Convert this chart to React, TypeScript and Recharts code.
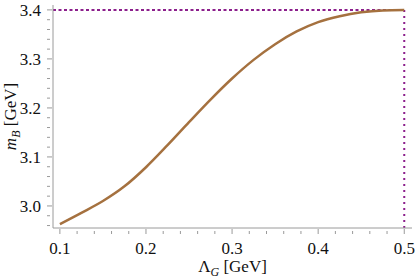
import { LineChart, Line, XAxis, YAxis, ReferenceLine } from 'recharts';

// Λ_G [GeV] sample points and m_B [GeV]
const lambdaG = [0.1, 0.125, 0.15, 0.175, 0.2, 0.225, 0.25, 0.275, 0.3, 0.325, 0.35, 0.375, 0.4, 0.425, 0.45, 0.475, 0.5];
const massB = [2.963, 2.986, 3.01, 3.04, 3.079, 3.124, 3.171, 3.217, 3.26, 3.298, 3.33, 3.356, 3.375, 3.387, 3.395, 3.399, 3.4];

const xMajor = [0.1, 0.2, 0.3, 0.4, 0.5];
const xTicks = [0.1, 0.12, 0.14, 0.16, 0.18, 0.2, 0.22, 0.24, 0.26, 0.28, 0.3, 0.32, 0.34, 0.36, 0.38, 0.4, 0.42, 0.44, 0.46, 0.48, 0.5];
const yMajor = [3.0, 3.1, 3.2, 3.3, 3.4];
const yTicks = [2.96, 2.98, 3.0, 3.02, 3.04, 3.06, 3.08, 3.1, 3.12, 3.14, 3.16, 3.18, 3.2, 3.22, 3.24, 3.26, 3.28, 3.3, 3.32, 3.34, 3.36, 3.38, 3.4];

const xDomain = [0.092, 0.509];
const yDomain = [2.955, 3.41];
const limitMass = 3.4;
const limitLambda = 0.5;

const data = lambdaG.map((x, i) => ({ x, m: massB[i] }));

const FRAME = '#9a9a9a';
const SERIF = 'Liberation Serif';
const CURVE = '#a5713f';
const GUIDE = '#8c1f8c';

const isMajor = (v: number, list: number[]) => list.some((m) => Math.abs(m - v) < 1e-6);

const BottomTick = (props: any) => {
  const { x, y, payload } = props;
  const major = isMajor(payload.value, xMajor);
  return (
    <g>
      <line x1={x} y1={y} x2={x} y2={y - (major ? 5 : 3)} stroke={FRAME} />
      {major && (
        <text x={x} y={y + 20} textAnchor="middle" fontFamily={SERIF} fontSize={17} fill="#111">
          {payload.value.toFixed(1)}
        </text>
      )}
    </g>
  );
};

const TopTick = (props: any) => {
  const { x, y, payload } = props;
  const major = isMajor(payload.value, xMajor);
  return <line x1={x} y1={y} x2={x} y2={y + (major ? 5 : 3)} stroke={FRAME} />;
};

const LeftTick = (props: any) => {
  const { x, y, payload } = props;
  const major = isMajor(payload.value, yMajor);
  return (
    <g>
      <line x1={x} y1={y} x2={x + (major ? 5 : 3)} y2={y} stroke={FRAME} />
      {major && (
        <text x={x - 6} y={y + 6} textAnchor="end" fontFamily={SERIF} fontSize={17} fill="#111">
          {payload.value.toFixed(1)}
        </text>
      )}
    </g>
  );
};

const RightTick = (props: any) => {
  const { x, y, payload } = props;
  const major = isMajor(payload.value, yMajor);
  return <line x1={x} y1={y} x2={x - (major ? 5 : 3)} y2={y} stroke={FRAME} />;
};

const XLabel = (props: any) => {
  const vb = props.viewBox;
  return (
    <text x={vb.x + vb.width / 2} y={vb.y + 44} textAnchor="middle" fontFamily={SERIF} fontSize={17} fill="#111">
      Λ<tspan fontStyle="italic" fontSize={12} dy={4}>G</tspan>
      <tspan dy={-4}> [GeV]</tspan>
    </text>
  );
};

const YLabel = (props: any) => {
  const vb = props.viewBox;
  const cy = vb.y + vb.height / 2;
  return (
    <text transform={`translate(16,${cy}) rotate(-90)`} textAnchor="middle" fontFamily={SERIF} fontSize={17} fill="#111">
      <tspan fontStyle="italic">m</tspan>
      <tspan fontStyle="italic" fontSize={12} dy={4}>B</tspan>
      <tspan dy={-4}> [GeV]</tspan>
    </text>
  );
};

export default function App() {
  return (
    <div style={{ position: 'absolute', left: 0, top: 0, background: '#fff' }}>
      <LineChart width={415} height={280} data={data} margin={{ top: 5, right: 3, left: 0, bottom: 0 }}>
        <XAxis
          xAxisId="bottom"
          dataKey="x"
          type="number"
          domain={xDomain}
          allowDataOverflow
          ticks={xTicks}
          interval={0}
          tickLine={false}
          tickMargin={0}
          tick={BottomTick}
          axisLine={{ stroke: FRAME }}
          height={52}
          label={{ content: XLabel }}
        />
        <XAxis
          xAxisId="top"
          orientation="top"
          dataKey="x"
          type="number"
          domain={xDomain}
          allowDataOverflow
          ticks={xTicks}
          interval={0}
          tickLine={false}
          tickMargin={0}
          tick={TopTick}
          axisLine={{ stroke: FRAME }}
          height={0}
        />
        <YAxis
          yAxisId="left"
          type="number"
          domain={yDomain}
          allowDataOverflow
          ticks={yTicks}
          interval={0}
          tickLine={false}
          tickMargin={0}
          tick={LeftTick}
          axisLine={{ stroke: FRAME }}
          width={53}
          label={{ content: YLabel }}
        />
        <YAxis
          yAxisId="right"
          orientation="right"
          type="number"
          domain={yDomain}
          allowDataOverflow
          ticks={yTicks}
          interval={0}
          tickLine={false}
          tickMargin={0}
          tick={RightTick}
          axisLine={{ stroke: FRAME }}
          width={0}
        />
        <ReferenceLine
          xAxisId="bottom"
          yAxisId="left"
          segment={[{ x: xDomain[0], y: limitMass }, { x: limitLambda, y: limitMass }]}
          stroke={GUIDE}
          strokeWidth={2}
          strokeDasharray="3 2.5"
        />
        <ReferenceLine
          xAxisId="bottom"
          yAxisId="left"
          segment={[{ x: limitLambda, y: limitMass }, { x: limitLambda, y: yDomain[0] }]}
          stroke={GUIDE}
          strokeWidth={2}
          strokeDasharray="2 4"
        />
        <Line
          xAxisId="bottom"
          yAxisId="left"
          dataKey="m"
          type="monotone"
          stroke={CURVE}
          strokeWidth={2.5}
          dot={false}
          isAnimationActive={false}
        />
      </LineChart>
    </div>
  );
}
